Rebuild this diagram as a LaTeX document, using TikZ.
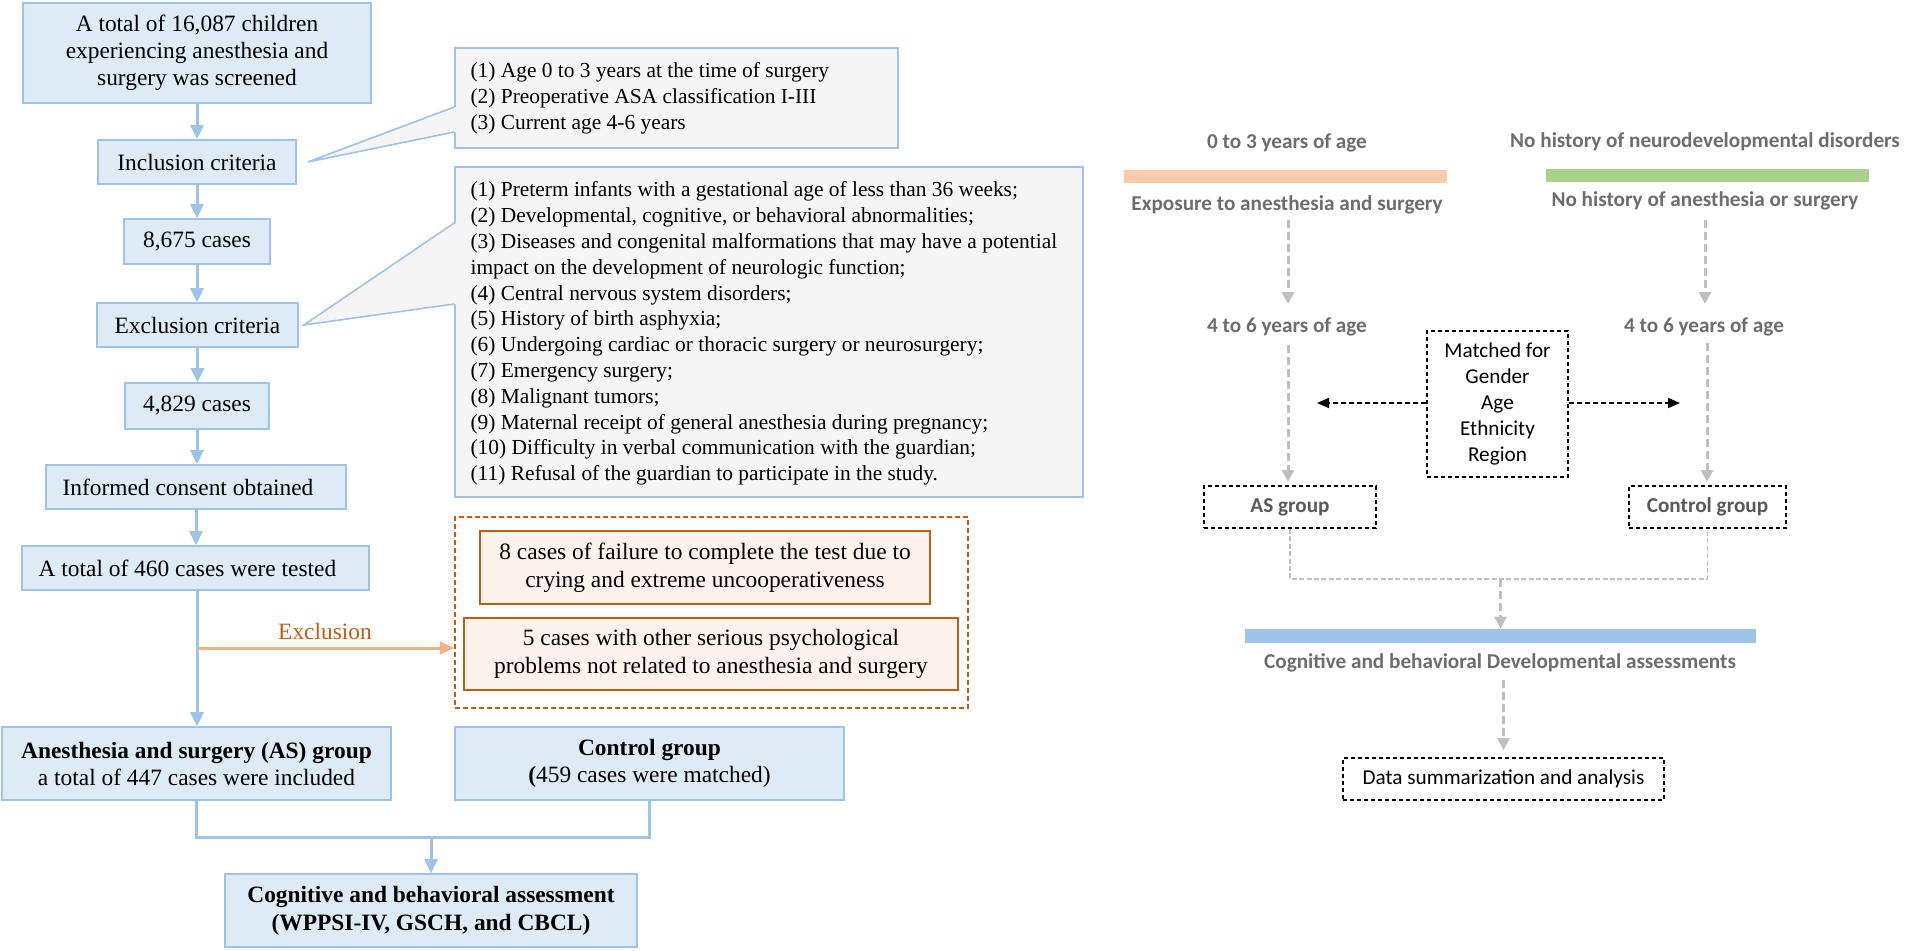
\documentclass[tikz,border=0pt]{standalone}
\usepackage{fontspec}
\setmainfont{Liberation Serif}
\newfontfamily\calfont{Carlito}
\usetikzlibrary{arrows.meta,calc}
\definecolor{bfill}{HTML}{DDEBF7}
\definecolor{bline}{HTML}{9DC3E6}
\definecolor{gfill}{HTML}{F5F5F5}
\definecolor{ofill}{HTML}{FDF2EC}
\definecolor{oline}{HTML}{C55A11}
\definecolor{oarrow}{HTML}{F4B183}
\definecolor{obar}{HTML}{F8CBAD}
\definecolor{gbar}{HTML}{A9D18E}
\definecolor{blbar}{HTML}{9DC3E6}
\definecolor{darrow}{HTML}{BFBFBF}
\definecolor{rgray}{HTML}{6D6D6D}
\definecolor{ggray}{HTML}{595959}
\begin{document}
\begin{tikzpicture}[x=0.5pt,y=-0.5pt,
  bbox/.style={draw=bline,fill=bfill,line width=0.8pt,inner sep=0pt,align=center,
    font=\fontsize{11.7pt}{13.5pt}\selectfont},
  lbox/.style={draw=bline,fill=gfill,line width=0.8pt,inner sep=0pt},
  ltext/.style={anchor=west,align=left,inner sep=0pt,font=\fontsize{10.7pt}{12.9pt}\selectfont},
  obox/.style={draw=oline,fill=ofill,line width=0.8pt,inner sep=0pt,align=center,
    font=\fontsize{11.7pt}{14pt}\selectfont},
  barrow/.style={draw=bline,line width=1.5pt,-{Triangle[length=7pt,width=6.5pt]}},
  bjoin/.style={draw=bline,line width=1.5pt},
  oarr/.style={draw=oarrow,line width=1.5pt,-{Triangle[length=7pt,width=6pt]}},
  rlabel/.style={inner sep=0pt,text=rgray,font=\calfont\bfseries\fontsize{10.6pt}{13pt}\selectfont},
  kbox/.style={draw=black,line width=1pt,dash pattern=on 2.2pt off 1.3pt,inner sep=0pt,align=center},
  garr/.style={draw=darrow,line width=1.5pt,dash pattern=on 4pt off 2pt,-{Triangle[length=6pt,width=6pt]}},
  gthin/.style={draw=darrow,line width=0.75pt,dash pattern=on 2.5pt off 1.2pt},
  karr/.style={draw=black,line width=0.9pt,dash pattern=on 2.5pt off 1.5pt,-{Triangle[length=6pt,width=5pt]}}
]
\useasboundingbox (0,0) rectangle (1905,950);
\fill[white] (0,0) rectangle (1905,950);

% ---------------- left flow ----------------
\node[bbox,minimum width=174pt,minimum height=50pt] (b1) at (197,53)
  {A total of 16,087 children\\experiencing anesthesia and\\surgery was screened};
\node[bbox,minimum width=99pt,minimum height=22pt] (incl) at (197,162) {Inclusion criteria};
\node[bbox,minimum width=73pt,minimum height=22.5pt] (n8675) at (197,241.5) {8,675 cases};
\node[bbox,minimum width=100.5pt,minimum height=22pt] (excl) at (197.5,325) {Exclusion criteria};
\node[bbox,minimum width=72pt,minimum height=23pt] (n4829) at (197,406) {4,829 cases};
\node[bbox,minimum width=150pt,minimum height=22pt] (consent) at (196,487) {Informed consent obtained\hspace*{8pt}};
\node[bbox,minimum width=173.5pt,minimum height=22pt] (tested) at (195.5,568) {A total of 460 cases were tested\hspace*{8pt}};
\node[bbox,minimum width=194.5pt,minimum height=36.5pt] (asg1) at (196.5,763.5)
  {\textbf{Anesthesia and surgery (AS) group}\\a total of 447 cases were included};
\node[bbox,minimum width=194.5pt,minimum height=36.5pt] (ctrl1) at (649.5,763.5)
  {\textbf{Control group}\\\textbf{(}459 cases were matched)};
\node[bbox,minimum width=206pt,minimum height=36.5pt,font=\bfseries\fontsize{11.7pt}{14pt}\selectfont] (cog1) at (431,910.5)
  {Cognitive and behavioral assessment\\(WPPSI-IV, GSCH, and CBCL)};

\draw[barrow] (b1.south) -- (b1.south |- incl.north);
\draw[barrow] (incl.south) -- (incl.south |- n8675.north);
\draw[barrow] (n8675.south) -- (n8675.south |- excl.north);
\draw[barrow] (excl.south) -- (excl.south |- n4829.north);
\draw[barrow] (n4829.south) -- (n4829.south |- consent.north);
\draw[barrow] (consent.south) -- (consent.south |- tested.north);
\draw[barrow] ([xshift=0.75pt]tested.south) -- ([xshift=0.75pt]tested.south |- asg1.north);

% inclusion list with callout
\node[lbox,minimum width=221.5pt,minimum height=50pt] (inlist) at (676.5,98) {};
\node[ltext] (inlisttext) at ([xshift=8pt]inlist.west)
  {(1) Age 0 to 3 years at the time of surgery\\(2) Preoperative ASA classification I-III\\(3) Current age 4-6 years};
\coordinate (tipI) at ([xshift=5.5pt]incl.east);
\fill[gfill] (tipI) -- ($(inlist.west |- 0,107)+(2,0)$) -- ($(inlist.west |- 0,132)+(2,0)$) -- cycle;
\draw[bline,line width=0.8pt,line join=miter] (inlist.west |- 0,107) -- (tipI) -- (inlist.west |- 0,132);

% exclusion list with callout
\node[lbox,minimum width=314pt,minimum height=165pt] (exlist) at (769,332) {};
\node[ltext] (exlisttext) at ([xshift=8pt,yshift=-0.75pt]exlist.west)
  {(1) Preterm infants with a gestational age of less than 36 weeks;\\
   (2) Developmental, cognitive, or behavioral abnormalities;\\
   (3) Diseases and congenital malformations that may have a potential\\
   impact on the development of neurologic function;\\
   (4) Central nervous system disorders;\\
   (5) History of birth asphyxia;\\
   (6) Undergoing cardiac or thoracic surgery or neurosurgery;\\
   (7) Emergency surgery;\\
   (8) Malignant tumors;\\
   (9) Maternal receipt of general anesthesia during pregnancy;\\
   (10) Difficulty in verbal communication with the guardian;\\
   (11) Refusal of the guardian to participate in the study.};
\coordinate (tipE) at ([xshift=2.5pt]excl.east);
\fill[gfill] (tipE) -- ($(exlist.west |- 0,223)+(2,0)$) -- ($(exlist.west |- 0,304)+(2,0)$) -- cycle;
\draw[bline,line width=0.8pt,line join=miter] (exlist.west |- 0,223) -- (tipE) -- (exlist.west |- 0,304);

% orange exclusion group
\node[draw=oline,line width=0.8pt,dash pattern=on 2.5pt off 1.5pt,minimum width=256.5pt,minimum height=95.5pt,inner sep=0pt] (odash) at (711.5,612.5) {};
\node[obox,minimum width=225pt,minimum height=36.5pt] (o8) at (705,567.5)
  {8 cases of failure to complete the test due to\\crying and extreme uncooperativeness};
\node[obox,minimum width=247pt,minimum height=36pt] (o5) at (711,654)
  {5 cases with other serious psychological\\problems not related to anesthesia and surgery};
\coordinate (br) at (197.5,648);
\draw[oarr] (br) -- (br -| odash.west);
\node[inner sep=0pt,text=oline,font=\fontsize{11.7pt}{13.5pt}\selectfont] (exlab) at (325,631) {Exclusion};

% join to assessment
\draw[bjoin] (asg1.south) -- (asg1.south |- 0,837) -| (ctrl1.south);
\draw[barrow] (cog1.north |- 0,837) -- (cog1.north);

% ---------------- right scheme ----------------
\node[rlabel] (t03) at (1287,143) {0 to 3 years of age};
\node[fill=obar,inner sep=0pt,minimum width=161.5pt,minimum height=6.5pt] (obarn) at (1285.5,176.5) {};
\node[rlabel] (texp) at (1287,205) {Exposure to anesthesia and surgery};
\node[rlabel] (t46a) at (1287,327) {4 to 6 years of age};

\node[rlabel] (tnh) at (1705,142) {No history of neurodevelopmental disorders};
\node[fill=gbar,inner sep=0pt,minimum width=161.5pt,minimum height=6.5pt] (gbarn) at (1707.5,175.5) {};
\node[rlabel] (tnha) at (1705,201) {No history of anesthesia or surgery};
\node[rlabel] (t46b) at (1704,327) {4 to 6 years of age};

\node[kbox,minimum width=70.5pt,minimum height=73pt,font=\calfont\fontsize{10.6pt}{13pt}\selectfont] (match) at (1497.5,404)
  {Matched for\\Gender\\Age\\Ethnicity\\Region};
\node[kbox,minimum width=86pt,minimum height=21pt,text=ggray,font=\calfont\bfseries\fontsize{10.6pt}{13pt}\selectfont] (asg2) at (1290,507) {AS group};
\node[kbox,minimum width=78.5pt,minimum height=21pt,text=ggray,font=\calfont\bfseries\fontsize{10.6pt}{13pt}\selectfont] (ctrl2) at (1707.5,507) {Control group};

\coordinate (kl) at (1317,403);
\coordinate (kr) at (1680,403);
\draw[karr] (match.west |- kl) -- (kl);
\draw[karr] (match.east |- kr) -- (kr);

\draw[garr] (1288,220) -- (1288,304);
\draw[garr] (1288,345) -- (1288,482);
\draw[garr] (1705,220) -- (1705,304);
\draw[garr] (1707,343) -- (1707,482);

\node[fill=blbar,inner sep=0pt,minimum width=255.5pt,minimum height=7pt] (blbarn) at (1500.5,636) {};
\node[rlabel] (tcog) at (1500,663) {Cognitive and behavioral Developmental assessments};
\node[kbox,minimum width=160.5pt,minimum height=21pt,font=\calfont\fontsize{10.6pt}{13pt}\selectfont] (data) at (1503.5,779) {Data summarization and analysis};

\draw[gthin] (asg2.south) -- (asg2.south |- 0,579) -| (ctrl2.south);
\draw[garr] (blbarn.north |- 0,579) -- (blbarn.north);
\draw[garr] (data.north |- 0,680) -- ([yshift=3.5pt]data.north);
\end{tikzpicture}
\end{document}
